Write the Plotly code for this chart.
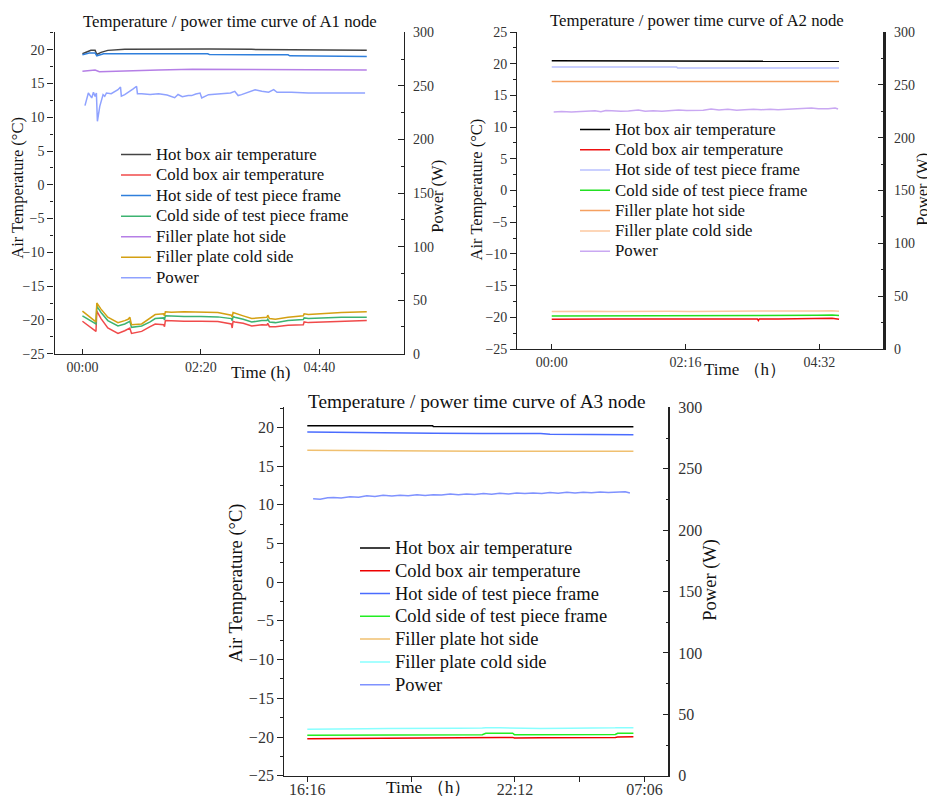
import plotly.graph_objects as go

W, H = 927, 804
# the photographed page maps the figure's height onto image rows ~8.3 .. ~795.5
Y0, YSPAN = 8.3, 787.0
def px(x): return x / W
def py(y): return 1 - (y - Y0) / YSPAN

SERIF = "Liberation Serif, Times New Roman, serif"

NAMES = ["Hot box air temperature", "Cold box air temperature", "Hot side of test piece frame",
         "Cold side of test piece frame", "Filler plate hot side", "Filler plate cold side", "Power"]

# ---------------- A1 node (minutes from 00:00) ----------------
A1_TICKVALS = [0, 140, 280]
A1_TICKTEXT = ["00:00", "02:20", "04:40"]

A1_T_HOTBOX = [0, 10, 15, 17, 22, 30, 50, 100, 150, 200, 243, 260, 300, 336]
A1_HOT_BOX = [19.4, 19.9, 19.9, 19.3, 19.6, 19.9, 20.05, 20.1, 20.1, 20.05, 20.0, 19.95, 19.95, 19.9]

A1_T_HOTFRAME = [0, 8, 15, 17, 25, 60, 100, 148, 150, 200, 243, 245, 300, 305, 336]
A1_HOT_FRAME = [19.25, 19.5, 19.5, 19.1, 19.4, 19.45, 19.4, 19.4, 19.3, 19.25, 19.25, 19.1, 19.1, 19.0, 19.0]

A1_T_FILLHOT = [0, 10, 15, 20, 30, 60, 90, 130, 200, 243, 300, 336]
A1_FILLER_HOT = [16.8, 16.95, 17.0, 16.75, 16.8, 16.9, 17.0, 17.1, 17.1, 17.05, 17.0, 17.0]

A1_T_COLD = [0, 8, 15, 16, 17, 22, 30, 42, 50, 54, 56, 58, 70, 80, 86, 96, 97, 98, 105, 120,
             140, 160, 176, 177, 178, 180, 190, 200, 212, 218, 219, 221, 228, 243, 261, 262, 267, 290, 306, 336]
A1_FILLER_COLD = [-18.7, -19.5, -20.2, -20.3, -17.5, -18.4, -19.6, -20.4, -20.1, -19.9, -19.6, -20.7, -20.6, -19.8,
                  -19.2, -19.1, -19.4, -18.8, -18.85, -18.8, -18.85, -18.9, -19.3, -19.6, -18.9, -19.0, -19.4,
                  -19.8, -19.6, -19.6, -19.3, -19.8, -19.9, -19.6, -19.4, -19.1, -19.2, -19.0, -18.9, -18.8]
A1_COLD_FRAME = [-19.4, -20.0, -20.5, -20.6, -17.95, -18.9, -20.1, -20.9, -20.6, -20.4, -20.2, -21.1, -20.9, -20.3,
                 -19.8, -19.7, -20.0, -19.4, -19.45, -19.5, -19.5, -19.55, -19.8, -20.1, -19.5, -19.6, -19.9,
                 -20.3, -20.1, -20.1, -19.9, -20.3, -20.4, -20.1, -19.95, -19.7, -19.8, -19.7, -19.6, -19.6]
A1_COLD_BOX = [-20.2, -20.9, -21.6, -21.7, -18.7, -19.8, -21.2, -22.0, -21.6, -21.3, -21.2, -22.0, -21.7, -21.0,
               -20.6, -20.7, -21.0, -20.1, -20.15, -20.2, -20.2, -20.25, -20.6, -21.2, -20.2, -20.3, -20.5,
               -20.9, -20.7, -20.75, -20.5, -21.0, -21.0, -20.8, -20.7, -20.3, -20.4, -20.3, -20.2, -20.1]

A1_T_POWER = [3, 7, 11, 13, 15, 16.5, 17.7, 20.5, 24.4, 26.4, 28.4, 34, 42, 45, 46, 50, 60, 64, 65, 70,
              80, 90, 100, 105, 109, 113, 118, 125, 129, 134, 139, 141, 149, 160, 168, 175, 180, 184, 188, 196,
              204, 212, 220, 226, 230, 247, 267, 290, 306, 334]
A1_POWER = [231.6, 243.4, 238.8, 244.1, 240.3, 243.4, 217.0, 231.0, 241.9, 240.3, 243.4, 242.8, 246.5, 249.0,
            240.5, 241.9, 247.2, 249.7, 242.8, 242.8, 242.0, 242.8, 241.5, 240.0, 239.0, 242.0, 240.0, 241.0,
            241.0, 242.5, 243.4, 238.8, 241.9, 242.5, 242.8, 243.5, 245.0, 241.0, 241.9, 244.1, 246.5, 245.0,
            244.1, 246.5, 244.1, 244.1, 243.4, 243.4, 243.4, 243.4]

# ---------------- A2 node (minutes from 00:00) ----------------
A2_TICKVALS = [0, 136, 272]
A2_TICKTEXT = ["00:00", "02:16", "04:32"]

A2_T_HOTBOX = [0, 100, 160, 170, 180, 200, 240, 250, 260, 270, 280, 292]
A2_HOT_BOX = [20.45, 20.45, 20.45, 20.38, 20.45, 20.45, 20.45, 20.38, 20.42, 20.36, 20.4, 20.38]

A2_T_HOTFRAME = [0, 50, 127, 128, 150, 200, 292]
A2_HOT_FRAME = [19.48, 19.46, 19.46, 19.33, 19.36, 19.33, 19.32]

A2_T_FILLHOT = [0, 100, 200, 292]
A2_FILLER_HOT = [17.2, 17.2, 17.2, 17.2]

A2_T_COLD = [0, 20, 40, 60, 80, 100, 120, 140, 160, 180, 200, 209, 210, 211, 230, 250, 270, 285, 292]
A2_FILLER_COLD = [-19.1, -19.05, -19.05, -19.1, -19.05, -19.05, -19.05, -19.1, -19.05, -19.0, -19.0, -19.0,
                  -19.0, -19.0, -19.0, -19.05, -19.0, -18.98, -19.05]
A2_COLD_FRAME = [-19.78, -19.78, -19.75, -19.72, -19.72, -19.75, -19.72, -19.75, -19.72, -19.72, -19.7, -19.72,
                 -19.72, -19.72, -19.7, -19.68, -19.68, -19.65, -19.7]
A2_COLD_BOX = [-20.3, -20.25, -20.3, -20.25, -20.27, -20.25, -20.22, -20.25, -20.2, -20.25, -20.22, -20.25,
               -20.5, -20.25, -20.25, -20.22, -20.2, -20.15, -20.3]

A2_T_POWER = [2, 10, 20, 27, 35, 44, 50, 55, 61, 70, 78, 88, 95, 103, 112, 120, 129, 137, 146, 154,
              162, 170, 179, 188, 196, 205, 213, 222, 230, 238, 247, 255, 264, 271, 276, 281, 288, 291]
A2_POWER = [224.3, 224.8, 224.2, 224.5, 225.0, 225.5, 224.6, 225.8, 225.4, 224.9, 225.2, 226.2, 224.9, 225.4,
            224.9, 225.8, 226.2, 225.6, 225.5, 226.0, 227.1, 226.3, 226.8, 226.0, 226.5, 227.0, 226.5, 226.9,
            226.5, 226.8, 227.1, 227.5, 228.1, 227.4, 227.3, 227.4, 228.1, 227.1]

# ---------------- A3 node (minutes from 16:16) ----------------
A3_TICKVALS = [0, 178, 356, 467, 578]
A3_TICKTEXT = ["16:16", "", "22:12", "", "07:06"]

A3_T_HOT = [0, 45, 100, 150, 215, 216, 300, 400, 416, 480, 559]
A3_HOT_BOX = [20.22, 20.22, 20.2, 20.2, 20.2, 20.1, 20.1, 20.1, 20.1, 20.1, 20.08]
A3_HOT_FRAME = [19.4, 19.35, 19.28, 19.27, 19.25, 19.25, 19.22, 19.2, 19.1, 19.08, 19.06]
A3_FILLER_HOT = [17.03, 17.03, 16.98, 16.97, 16.97, 16.95, 16.93, 16.92, 16.92, 16.9, 16.9]

A3_T_COLD = [0, 30, 60, 100, 140, 180, 220, 260, 300, 306, 330, 352, 355, 400, 450, 500, 528, 532, 559]
A3_FILLER_COLD = [-19.0, -19.0, -18.95, -18.92, -18.9, -18.92, -18.9, -18.88, -18.85, -18.82, -18.82, -18.85,
                  -18.88, -18.9, -18.88, -18.9, -18.82, -18.8, -18.8]
A3_COLD_FRAME = [-19.78, -19.78, -19.72, -19.72, -19.72, -19.72, -19.7, -19.7, -19.7, -19.52, -19.52, -19.52,
                 -19.7, -19.7, -19.7, -19.68, -19.68, -19.52, -19.52]
A3_COLD_BOX = [-20.22, -20.2, -20.15, -20.15, -20.12, -20.12, -20.1, -20.1, -20.08, -20.05, -20.05, -20.05,
               -20.12, -20.1, -20.1, -20.08, -20.05, -20.0, -19.98]

A3_T_POWER = [10, 22, 35, 45, 58, 73, 88, 102, 116, 130, 145, 159, 173, 188, 202, 216, 230, 245, 259, 273,
              287, 302, 316, 330, 345, 359, 373, 387, 402, 416, 430, 445, 459, 473, 487, 502, 516, 530, 545, 553]
A3_POWER = [225.6, 225.2, 226.4, 226.7, 226.3, 227.3, 226.8, 228.1, 227.5, 228.4, 227.8, 228.4, 228.0, 228.9,
            228.2, 228.9, 228.6, 229.4, 228.8, 229.5, 229.0, 229.9, 229.3, 230.0, 229.5, 230.3, 229.8, 230.3,
            229.9, 230.6, 230.1, 230.8, 230.2, 230.8, 230.4, 231.0, 230.6, 230.9, 231.2, 230.3]

A1_COLORS = ["#444444", "#f04a4a", "#2f7fdc", "#3cb371", "#b57fe6", "#d4a012", "#8fa2ff"]
A2_COLORS = ["#000000", "#ee1111", "#b8c0ff", "#22e022", "#f5a060", "#fcc8a0", "#c9a8f2"]
A3_COLORS = ["#000000", "#ee0000", "#4a6cff", "#22ee22", "#f0c070", "#88ffff", "#7f92ff"]

fig = go.Figure()

def add_panel(xa, ya, yb, legend, series, colors, label_size):
    for i, (t, v) in enumerate(series):
        fig.add_trace(go.Scatter(
            x=t, y=v, mode="lines",
            name=f'<span style="font-size:{label_size}px">{NAMES[i]}</span>',
            line=dict(color=colors[i], width=1.5),
            xaxis=xa, yaxis=(yb if i == 6 else ya), legend=legend, showlegend=True))

add_panel("x", "y", "y2", "legend", [
    (A1_T_HOTBOX, A1_HOT_BOX), (A1_T_COLD, A1_COLD_BOX), (A1_T_HOTFRAME, A1_HOT_FRAME),
    (A1_T_COLD, A1_COLD_FRAME), (A1_T_FILLHOT, A1_FILLER_HOT), (A1_T_COLD, A1_FILLER_COLD),
    (A1_T_POWER, A1_POWER)], A1_COLORS, 16.8)
add_panel("x2", "y3", "y4", "legend2", [
    (A2_T_HOTBOX, A2_HOT_BOX), (A2_T_COLD, A2_COLD_BOX), (A2_T_HOTFRAME, A2_HOT_FRAME),
    (A2_T_COLD, A2_COLD_FRAME), (A2_T_FILLHOT, A2_FILLER_HOT), (A2_T_COLD, A2_FILLER_COLD),
    (A2_T_POWER, A2_POWER)], A2_COLORS, 16.8)
add_panel("x3", "y5", "y6", "legend3", [
    (A3_T_HOT, A3_HOT_BOX), (A3_T_COLD, A3_COLD_BOX), (A3_T_HOT, A3_HOT_FRAME),
    (A3_T_COLD, A3_COLD_FRAME), (A3_T_HOT, A3_FILLER_HOT), (A3_T_COLD, A3_FILLER_COLD),
    (A3_T_POWER, A3_POWER)], A3_COLORS, 18.5)

AX = "#222222"

def xaxis(domain, rng, tv, tt, anchor, ticks, fs, standoff=0):
    return dict(domain=domain, range=rng, anchor=anchor, tickmode="array", tickvals=tv, ticktext=tt,
                ticks=ticks, ticklen=5, tickwidth=1.2, tickcolor=AX, showline=True, linecolor=AX,
                linewidth=1.4, showgrid=False, zeroline=False, ticklabelstandoff=standoff,
                tickfont=dict(family=SERIF, size=fs, color="#333"))

def yleft(domain, rng, anchor, fs):
    return dict(domain=domain, range=rng, anchor=anchor, tickmode="linear", tick0=-25, dtick=5,
                ticks="outside", ticklen=6, tickwidth=1.2, tickcolor=AX, showline=True, linecolor=AX,
                linewidth=1.4, showgrid=False, zeroline=False,
                minor=dict(ticks="outside", ticklen=3, tickcolor=AX, tick0=-25, dtick=2.5, showgrid=False),
                tickfont=dict(family=SERIF, size=fs, color="#333"))

def yright(over, anchor, fs, lw):
    return dict(overlaying=over, anchor=anchor, side="right", range=[0, 300], tickmode="linear",
                tick0=0, dtick=50, ticks="inside", ticklen=6, tickwidth=1.2, tickcolor=AX, showline=True,
                linecolor=AX, linewidth=lw, showgrid=False, zeroline=False, ticklabelstandoff=5,
                minor=dict(ticks="inside", ticklen=3, tickcolor=AX, tick0=0, dtick=25, showgrid=False),
                tickfont=dict(family=SERIF, size=fs, color="#333"))

A1_X = [px(54.5), px(404)]; A1_Y = [py(354), py(32.7)]
A2_X = [px(517.3), px(883.3)]; A2_Y = [py(349.3), py(32.3)]
A3_X = [px(284.3), px(668.3)]; A3_Y = [py(776), py(407.7)]

def legend(x, y, fs):
    return dict(x=px(x), y=py(y), xanchor="left", yanchor="top", bgcolor="rgba(0,0,0,0)",
                font=dict(family=SERIF, size=fs, color="#111"), tracegroupgap=0, itemclick=False)

def ann(x, y, text, fs, angle=0):
    return dict(x=px(x), y=py(y), xref="paper", yref="paper", text=text, showarrow=False,
                textangle=angle, font=dict(family=SERIF, size=fs, color="#111"),
                xanchor="center", yanchor="middle")

fig.update_layout(
    width=W, height=H, autosize=False, margin=dict(l=0, r=0, t=0, b=0),
    paper_bgcolor="white", plot_bgcolor="white",
    xaxis=xaxis(A1_X, [-33, 380], A1_TICKVALS, A1_TICKTEXT, "y", "inside", 14),
    yaxis=yleft(A1_Y, [-25, 22.56], "x", 14),
    yaxis2=yright("y", "x", 14, 1.4),
    xaxis2=xaxis(A2_X, [-35, 337], A2_TICKVALS, A2_TICKTEXT, "y3", "inside", 14),
    yaxis3=yleft(A2_Y, [-25, 25], "x2", 14),
    yaxis4=yright("y3", "x2", 14, 2.6),
    xaxis3=xaxis(A3_X, [-39.4, 618.8], A3_TICKVALS, A3_TICKTEXT, "y5", "outside", 16, -6),
    yaxis5=yleft(A3_Y, [-25, 22.58], "x3", 16),
    yaxis6=yright("y5", "x3", 16, 1.6),
    legend=legend(116, 139.5, 13.5),
    legend2=legend(575, 114.6, 13.3),
    legend3=legend(355, 532, 15.2),
    annotations=[
        ann(230, 22, "Temperature / power time curve of A1 node", 16.8),
        ann(18, 188, "Air Temperature (°C)", 16.5, -90),
        ann(438, 197, "Power (W)", 16.5, -90),
        ann(260, 373, "Time (h)", 17),
        ann(696.7, 21, "Temperature / power time curve of A2 node", 16.8),
        ann(476.7, 190, "Air Temperature (°C)", 16.5, -90),
        ann(923, 190, "Power (W)", 16.5, -90),
        ann(745, 370, "Time （h）", 17),
        ann(476.7, 401.7, "Temperature / power time curve of A3 node", 19.3),
        ann(236.7, 583, "Air Temperature (°C)", 18.5, -90),
        ann(711, 580, "Power (W)", 18.5, -90),
        ann(428, 787, "Time （h）", 17.5),
    ],
)

# fixed-size figure at the window's top-left corner (no body margin, no resize, no modebar)
fig.write_html("out.html",
               config={"responsive": False, "displayModeBar": False},
               post_script=(
                   "document.documentElement.style.margin='0';document.documentElement.style.overflow='hidden';"
                   "document.body.style.margin='0';document.body.style.overflow='hidden';"))
